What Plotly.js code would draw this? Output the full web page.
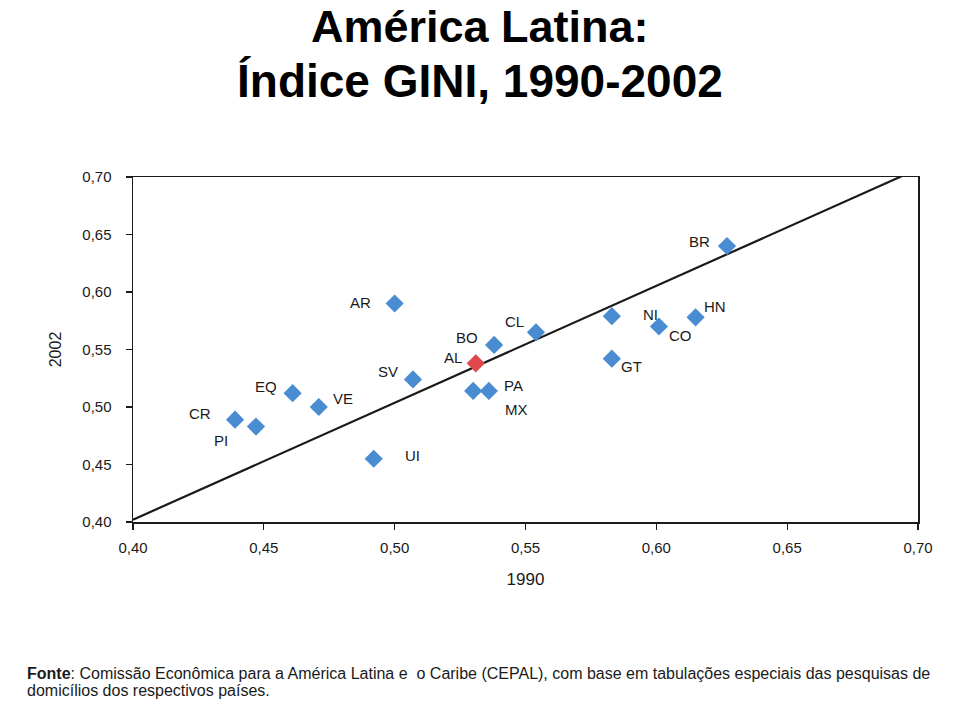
<!DOCTYPE html>
<html>
<head>
<meta charset="utf-8">
<script src="https://cdn.plot.ly/plotly-3.0.1.min.js"></script>
<style>
  html, body { margin: 0; padding: 0; background: #ffffff; }
  #chart { width: 960px; height: 717px; }
</style>
</head>
<body>
<div id="chart"></div>
<script>
// Country codes
const countries = ["AR","BO","CL","SV","PA","MX","EQ","VE","CR","PI","UI","BR","NI","CO","HN","GT"];
// Gini index 1990 (x) and 2002 (y)
const gini1990 = [0.500, 0.538, 0.554, 0.507, 0.536, 0.530, 0.461, 0.471, 0.439, 0.447, 0.492, 0.627, 0.583, 0.601, 0.615, 0.583];
const gini2002 = [0.590, 0.554, 0.565, 0.524, 0.514, 0.514, 0.512, 0.500, 0.489, 0.483, 0.455, 0.640, 0.579, 0.570, 0.578, 0.542];
// Latin America average (red)
const avgLabel = ["AL"];
const avg1990 = [0.531];
const avg2002 = [0.538];
// Reference line (1990 = 2002)
const refX = [0.40, 0.698];
const refY = [0.402, 0.705];
// Tick values
const tickVals = [0.40, 0.45, 0.50, 0.55, 0.60, 0.65, 0.70];
// Texts
const titleLine1 = "América Latina:";
const titleLine2 = "Índice GINI, 1990-2002";
const sourceLine1 = "<b>Fonte</b>: Comissão Econômica para a América Latina e  o Caribe (CEPAL), com base em tabulações especiais das pesquisas de";
const sourceLine2 = "domicílios dos respectivos países.";

// Label offsets (pixels) for each country label relative to its marker
const labelShift = {
  AR:[-34,1], BO:[-27,7], CL:[-21,11], SV:[-25,8], PA:[25,5], MX:[43,-19],
  EQ:[-27,7], VE:[24,9], CR:[-35,6], PI:[-35,-14], UI:[39,3], BR:[-27,5],
  NI:[39,2], CO:[22,-9], HN:[19,11], GT:[20,-8], AL:[-23,6]
};

const FONT = "Liberation Sans, Arial, sans-serif";
const INK = "#1a1a1a";
const PAGE_CENTER = 0.442; // paper x of the page centre

const traces = [
  {
    x: refX, y: refY, type: "scatter", mode: "lines",
    line: {color: INK, width: 2.2}, hoverinfo: "skip", showlegend: false
  },
  {
    x: gini1990, y: gini2002, type: "scatter", mode: "markers",
    marker: {symbol: "diamond", size: 14, color: "#4a8cd2"},
    text: countries, showlegend: false, cliponaxis: false
  },
  {
    x: avg1990, y: avg2002, type: "scatter", mode: "markers",
    marker: {symbol: "diamond", size: 14, color: "#e0474d"},
    text: avgLabel, showlegend: false, cliponaxis: false
  }
];

const annotations = [];
const allLabels = countries.concat(avgLabel);
const allX = gini1990.concat(avg1990);
const allY = gini2002.concat(avg2002);
allLabels.forEach((c, i) => {
  const s = labelShift[c] || [0, 0];
  annotations.push({
    x: allX[i], y: allY[i], xref: "x", yref: "y",
    text: c, showarrow: false, xshift: s[0], yshift: s[1],
    font: {family: FONT, size: 15, color: INK}
  });
});

// Title (two lines)
annotations.push({
  xref: "paper", yref: "paper", x: PAGE_CENTER, y: 1.512, xanchor: "center", yanchor: "top",
  showarrow: false, borderpad: 0, text: "<b>" + titleLine1 + "</b>",
  font: {family: FONT, size: 45, color: "#000000"}
});
annotations.push({
  xref: "paper", yref: "paper", x: PAGE_CENTER, y: 1.278, xanchor: "center", yanchor: "middle",
  showarrow: false, text: "<b>" + titleLine2 + "</b>",
  font: {family: FONT, size: 46, color: "#000000"}
});

// Source footnote (two lines)
annotations.push({
  xref: "paper", yref: "paper", x: -0.137, y: -0.4377, xanchor: "left", yanchor: "middle",
  align: "left", showarrow: false, text: sourceLine1,
  font: {family: FONT, size: 16, color: INK}
});
annotations.push({
  xref: "paper", yref: "paper", x: -0.137, y: -0.487, xanchor: "left", yanchor: "middle",
  align: "left", showarrow: false, text: sourceLine2,
  font: {family: FONT, size: 16, color: INK}
});

const axisCommon = {
  range: [0.40, 0.70], tickvals: tickVals, tickformat: ".2f",
  showgrid: false, zeroline: false, showline: true, mirror: true,
  linecolor: INK, linewidth: 1.5,
  ticks: "outside", ticklen: 6, tickcolor: INK, tickwidth: 1.2,
  tickfont: {family: FONT, size: 15, color: INK}
};

const layout = {
  width: 960, height: 717,
  margin: {l: 133, r: 42, t: 177, b: 195},
  paper_bgcolor: "#ffffff", plot_bgcolor: "#ffffff",
  separators: ",.",
  xaxis: Object.assign({}, axisCommon, {
    ticklabelstandoff: 5,
    title: {text: "1990", standoff: 18, font: {family: FONT, size: 17, color: INK}}
  }),
  yaxis: Object.assign({}, axisCommon, {
    ticklabelstandoff: 11,
    title: {text: "2002", standoff: 16, font: {family: FONT, size: 16, color: INK}}
  }),
  annotations: annotations,
  showlegend: false
};

Plotly.newPlot("chart", traces, layout, {displayModeBar: false, staticPlot: true});
</script>
</body>
</html>
